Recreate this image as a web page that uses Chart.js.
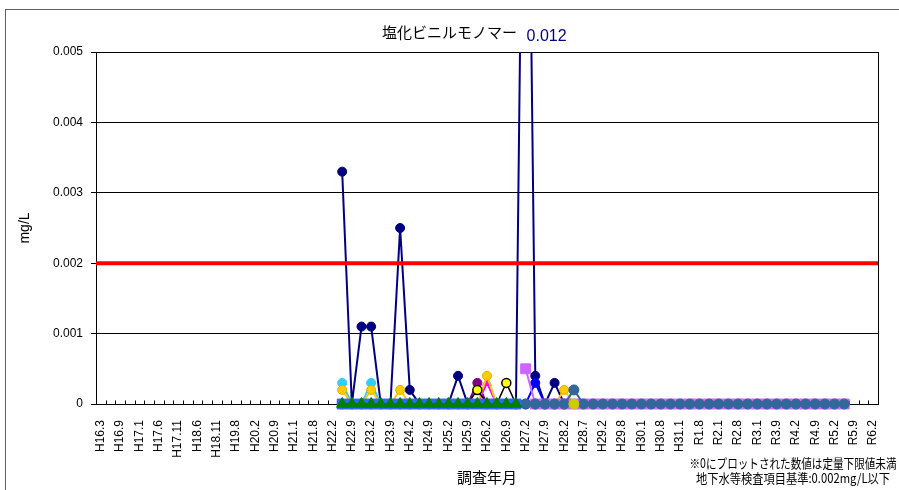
<!DOCTYPE html>
<html lang="ja">
<head>
<meta charset="utf-8">
<title>塩化ビニルモノマー</title>
<script src="https://cdn.jsdelivr.net/npm/chart.js@4"></script>
<style>
  html, body { margin: 0; padding: 0; background: #fff; }
  #wrap { width: 899px; height: 490px; }
</style>
</head>
<body>
<div id="wrap"><canvas id="vcmChart" width="899" height="490"></canvas></div>
<script>
// survey dates, every other one is labelled
const tickLabels = [
  'H16.3', 'H16.9', 'H17.1', 'H17.6', 'H17.11', 'H18.6', 'H18.11', 'H19.8', 'H20.2', 'H20.9',
  'H21.1', 'H21.8', 'H22.2', 'H22.9', 'H23.2', 'H23.9', 'H24.2', 'H24.9', 'H25.2', 'H25.9',
  'H26.2', 'H26.9', 'H27.2', 'H27.9', 'H28.2', 'H28.7', 'H29.2', 'H29.8', 'H30.1', 'H30.8',
  'H31.1', 'R1.8', 'R2.1', 'R2.8', 'R3.1', 'R3.9', 'R4.2', 'R4.9', 'R5.2', 'R5.9', 'R6.2'
];

// groundwater standard (mg/L) and axis top
const STANDARD = 0.002;
const Y_MAX = 0.005;
const Y_STEP = 0.001;

// measured values per well (mg/L), 0 = below the quantification limit
// these first ones start at the survey between H22.2 and H22.9
const wellNavy = [0.0033, 0, 0.0011, 0.0011, 0, 0, 0.0025, 0.0002, 0, 0, 0, 0, 0.0004, 0, 0, 0, 0, 0, 0,
  0.012, 0.0004, 0, 0.0003, 0];
const wellCyan = [0.0003, 0, 0, 0.0003, 0, 0, 0, 0, 0, 0, 0, 0, 0, 0, 0, 0, 0, 0, 0,
  0, 0, 0, 0, 0, 0.0002];
const wellGold = [0.0002, 0, 0, 0.0002, 0, 0, 0.0002, 0, 0, 0, 0, 0, 0, 0, 0, 0.0004, 0, 0, 0,
  0, 0, 0, 0, 0.0002, 0];
const wellPurple = [0, 0, 0, 0, 0, 0, 0, 0, 0, 0, 0, 0, 0, 0, 0.0003, 0, 0, 0, 0,
  0, 0, 0, 0, 0];
const wellYellow = [0, 0, 0, 0, 0, 0, 0, 0, 0, 0, 0, 0, 0, 0, 0.0002, 0, 0, 0.0003, 0,
  0, 0, 0, 0, 0];
const wellMagenta = [0, 0, 0, 0, 0, 0, 0, 0, 0, 0, 0, 0, 0, 0, 0, 0.0003, 0, 0, 0,
  0, 0, 0, 0, 0];
const wellBlue = [0, 0, 0, 0, 0, 0, 0, 0, 0, 0, 0, 0, 0, 0, 0, 0, 0, 0, 0,
  0, 0.0003, 0, 0, 0];
const wellRoyal = [0, 0, 0, 0, 0, 0, 0, 0, 0, 0, 0, 0, 0, 0, 0, 0, 0, 0, 0];
const wellGreen = [0, 0, 0, 0, 0, 0, 0, 0, 0, 0, 0, 0, 0, 0, 0, 0, 0, 0, 0];
// these start at H27.2
const wellViolet = [0.0005, 0, 0, 0, 0, 0, 0, 0, 0, 0, 0, 0, 0, 0, 0, 0, 0,
  0, 0, 0, 0, 0, 0, 0, 0, 0, 0, 0, 0, 0, 0, 0, 0, 0];
const wellSteel = [0, 0, 0, 0, 0, 0.0002, 0, 0, 0, 0, 0, 0, 0, 0, 0, 0, 0,
  0, 0, 0, 0, 0, 0, 0, 0, 0, 0, 0, 0, 0, 0, 0, 0, 0];
// single survey after H28.2
const wellOlive = [0];

// one category per survey, label only every other one
const categories = [];
tickLabels.forEach((t, i) => {
  categories.push(t);
  if (i < tickLabels.length - 1) categories.push('');
});

function placeAt(start, vals) {
  const arr = new Array(categories.length).fill(null);
  vals.forEach((v, i) => { arr[start + i] = v; });
  return arr;
}

const H22_START = 25;
const H27_START = 44;
const H28_START = 49;

function well(label, data, color, extra) {
  return Object.assign({
    label: label,
    data: data,
    borderColor: color,
    backgroundColor: color,
    pointBackgroundColor: color,
    pointBorderColor: color,
    borderWidth: 2,
    pointRadius: 4.5,
    pointBorderWidth: 1,
    pointStyle: 'circle',
    tension: 0,
    clip: { left: 8, right: 8, top: 0, bottom: 9 }
  }, extra || {});
}

// listed bottom-most first
const wells = [
  well('No.1', placeAt(H22_START, wellNavy), '#000080'),
  well('No.2', placeAt(H22_START, wellPurple), '#800080'),
  well('No.3', placeAt(H22_START, wellCyan), '#33CCFF'),
  well('No.4', placeAt(H22_START, wellMagenta), '#FF00FF', { pointStyle: 'triangle', pointRadius: 5 }),
  well('No.5', placeAt(H22_START, wellGold), '#FFCC00', { pointBorderColor: '#E0B000' }),
  well('No.6', placeAt(H22_START, wellYellow), '#000000', { pointBackgroundColor: '#FFFF00', borderWidth: 1.5, pointBorderWidth: 1.5 }),
  well('No.7', placeAt(H22_START, wellBlue), '#0000FF'),
  well('No.8', placeAt(H27_START, wellViolet), '#CC66FF', { pointStyle: 'rect', pointRadius: 7 }),
  well('No.9', placeAt(H27_START, wellSteel), '#336699', { pointRadius: 5 }),
  well('No.10', placeAt(H28_START, wellOlive), '#CCCC00', { pointRadius: 5 }),
  well('No.11', placeAt(H22_START, wellRoyal), '#3366FF', { pointStyle: 'rect', pointRadius: 7 }),
  well('No.12', placeAt(H22_START, wellGreen), '#008000', { pointStyle: 'triangle', pointRadius: 6.5 })
];
wells.forEach((ds, i) => { ds.order = wells.length - i; });

const chartDecor = {
  id: 'chartDecor',
  beforeDraw(chart) {
    const ctx = chart.ctx;
    ctx.save();
    ctx.fillStyle = '#fff';
    ctx.fillRect(0, 0, chart.width, chart.height);
    ctx.strokeStyle = '#606060';
    ctx.lineWidth = 1;
    ctx.strokeRect(5.5, 9.5, chart.width + 10, chart.height + 10);
    ctx.restore();
  },
  beforeDatasetsDraw(chart) {
    const ctx = chart.ctx;
    const a = chart.chartArea;
    const l = Math.round(a.left) + 0.5, r = Math.round(a.right) + 0.5;
    const t = Math.round(a.top) + 0.5, b = Math.round(a.bottom) + 0.5;
    ctx.save();
    ctx.strokeStyle = '#000';
    ctx.lineWidth = 1;
    ctx.strokeRect(l, t, r - l, b - t);
    // inward tick marks between categories
    const n = categories.length;
    const w = (a.right - a.left) / n;
    ctx.beginPath();
    for (let k = 1; k < n; k++) {
      const x = Math.round(a.left + k * w) + 0.5;
      ctx.moveTo(x, b);
      ctx.lineTo(x, b - 4);
    }
    ctx.stroke();
    ctx.restore();
  },
  afterDatasetsDraw(chart) {
    const ctx = chart.ctx;
    const a = chart.chartArea;
    const y = chart.scales.y.getPixelForValue(STANDARD);
    ctx.save();
    ctx.strokeStyle = '#FF0000';
    ctx.lineWidth = 4;
    ctx.beginPath();
    ctx.moveTo(a.left, y);
    ctx.lineTo(a.right, y);
    ctx.stroke();
    ctx.restore();
  },
  afterDraw(chart) {
    const ctx = chart.ctx;
    const a = chart.chartArea;
    ctx.save();
    ctx.fillStyle = '#000';
    ctx.textAlign = 'center';
    ctx.textBaseline = 'middle';
    ctx.font = "15px 'Noto Sans CJK JP'";
    ctx.fillText('塩化ビニルモノマー', chart.width / 2, 32);

    // notes, squeezed a little to fit the corner
    ctx.font = "13px 'Noto Sans CJK JP'";
    ctx.fillText('※0にプロットされた数値は定量下限値未満', 793, 463, 207);
    ctx.fillText('地下水等検査項目基準:' + STANDARD + 'mg/L以下', 793, 478, 194);

    // values above the axis top are written at the edge
    ctx.textAlign = 'left';
    ctx.font = "16px 'Liberation Sans'";
    chart.data.datasets.forEach((ds, di) => {
      const meta = chart.getDatasetMeta(di);
      ds.data.forEach((v, i) => {
        if (v !== null && v > Y_MAX) {
          ctx.fillStyle = ds.borderColor;
          ctx.fillText(String(v), meta.data[i].x + 1, a.top - 15);
        }
      });
    });
    ctx.restore();
  }
};

const ctx = document.getElementById('vcmChart').getContext('2d');
new Chart(ctx, {
  type: 'line',
  data: { labels: categories, datasets: wells },
  options: {
    responsive: false,
    animation: false,
    layout: { padding: { top: 52, right: 21, bottom: 0, left: 0 } },
    plugins: {
      legend: { display: false },
      tooltip: { enabled: false }
    },
    scales: {
      x: {
        type: 'category',
        offset: true,
        grid: { display: false },
        border: { display: false },
        ticks: {
          autoSkip: false,
          minRotation: 90,
          maxRotation: 90,
          padding: 8,
          color: '#000',
          font: { family: "'Liberation Sans'", size: 12 }
        },
        title: {
          display: true,
          text: '調査年月',
          color: '#000',
          font: { family: "'Noto Sans CJK JP'", size: 15 },
          padding: { top: 0, bottom: 4 }
        },
        afterFit(scale) {
          scale.height = 86;
          scale.paddingLeft = 0;
          scale.paddingRight = 0;
        }
      },
      y: {
        min: 0,
        max: Y_MAX,
        ticks: {
          stepSize: Y_STEP,
          padding: 8,
          color: '#000',
          font: { family: "'Liberation Sans'", size: 12 },
          callback: v => v === 0 ? '0' : v.toFixed(3)
        },
        grid: { color: '#000', lineWidth: 1, tickLength: 5 },
        border: { display: false },
        title: {
          display: true,
          text: 'mg/L',
          color: '#000',
          font: { family: "'Liberation Sans'", size: 14 },
          padding: { top: 17, bottom: 0 }
        },
        afterFit(scale) {
          scale.width = 96;
        }
      }
    }
  },
  plugins: [chartDecor]
});
</script>
</body>
</html>
